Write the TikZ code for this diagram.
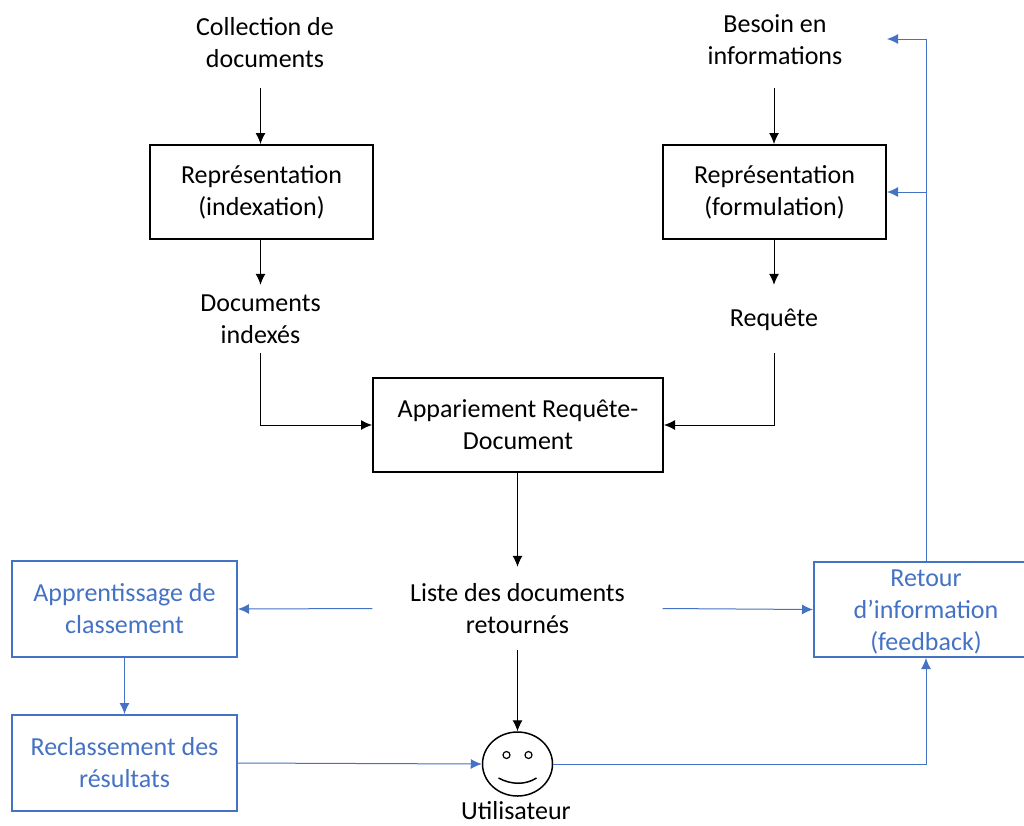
\documentclass[tikz,border=0pt]{standalone}
\usepackage{fontspec}
\setmainfont{Carlito}
\usetikzlibrary{arrows.meta,shapes.geometric}
\definecolor{retourblue}{HTML}{4472C4}
\tikzset{
    label text/.style={align=center, inner sep=0pt, font=\fontsize{26}{32}\selectfont},
    black box/.style={label text, draw=black, line width=2pt, minimum width=223pt, minimum height=94pt},
    blue box/.style={label text, draw=retourblue, text=retourblue, line width=2pt, minimum width=225pt, minimum height=96pt},
    flow/.style={-{Latex[length=11pt,width=10pt]}, line width=1pt},
    blue flow/.style={flow, draw=retourblue, color=retourblue}
}
\begin{document}
\begin{tikzpicture}[x=1pt,y=-1pt]
    \useasboundingbox (0,0) rectangle (1024,825);
    \clip (0,0) rectangle (1024,825);
    % top row
    \node[label text, minimum height=90pt] (collection) at (265,43) {Collection de\\documents};
    \node[label text, minimum height=96pt] (besoin) at (775,40) {Besoin en\\informations};
    \node[black box] (indexation) at (261.5,192) {Représentation\\(indexation)};
    \node[black box] (formulation) at (774.5,192) {Représentation\\(formulation)};
    \node[label text, minimum height=68pt] (indexes) at (260.5,319) {Documents\\indexés};
    \node[label text, minimum height=68pt, text depth=2pt] (requete) at (774,319) {Requête};
    \node[black box, minimum width=290pt] (appariement) at (518,425) {Appariement Requête-\\Document};
    \node[label text, minimum width=290pt, minimum height=83pt] (liste) at (517.5,608.5) {Liste des documents\\retournés};
    % blue boxes
    \node[blue box] (apprentissage) at (124.5,609) {Apprentissage de\\classement};
    \node[blue box] (reclassement) at (124.5,763) {Reclassement des\\résultats};
    \node[blue box, minimum width=224pt, minimum height=95pt] (retour) at (926,609.5) {\rule{0pt}{21pt}Retour\\d’information\\(feedback)};
    % user
    \node[ellipse, draw=black, line width=1.5pt, minimum width=70pt, minimum height=64pt, inner sep=0pt] (user) at (517.5,764) {};
    \node[label text] (utilisateur) at (516,811) {Utilisateur};
    \draw[line width=1.2pt] ([shift={(-11,-9)}]user.center) circle (3.5pt);
    \draw[line width=1.2pt] ([shift={(11,-9)}]user.center) circle (3.5pt);
    \draw[line width=1.5pt] ([shift={(-19,14)}]user.center) .. controls ([shift={(-6,21)}]user.center) and ([shift={(8,21)}]user.center) .. ([shift={(19,14)}]user.center);
    \coordinate (besoinend) at (887,39);
    % black connectors
    \draw[flow] (collection.south -| indexes) -- (indexation.north -| indexes);
    \draw[flow] (besoin.south -| requete) -- (formulation.north -| requete);
    \draw[flow] (indexation.south -| indexes) -- (indexes.north);
    \draw[flow] (formulation.south -| requete) -- (requete.north);
    \draw[flow] (indexes.south) |- (appariement.west);
    \draw[flow] (requete.south) |- (appariement.east);
    \draw[flow] (appariement.south -| liste) -- (liste.north);
    \draw[flow] (liste.south) -- (user.north);
    % blue connectors
    \draw[blue flow] (liste.west) -- (apprentissage.east);
    \draw[blue flow] (liste.east) -- (retour.west);
    \draw[blue flow] (apprentissage.south) -- (reclassement.north);
    \draw[blue flow] (reclassement.east) -- (user.west);
    \draw[blue flow] (user.east) -| (retour.south);
    \draw[blue flow] (retour.north) |- (besoinend);
    \draw[blue flow] (retour.north |- formulation.east) -- (formulation.east);
\end{tikzpicture}
\end{document}
